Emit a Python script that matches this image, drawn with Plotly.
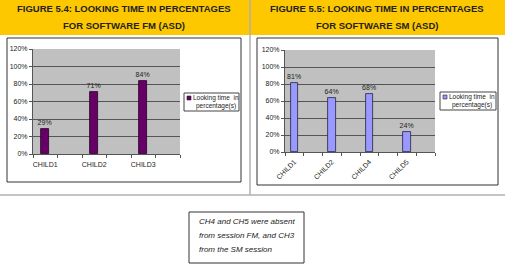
import plotly.graph_objects as go

W, H = 505, 276

fm_children = ["CHILD1", "CHILD2", "CHILD3"]
fm_values = [0.29, 0.71, 0.84]
sm_children = ["CHILD1", "CHILD2", "CHILD4", "CHILD5"]
sm_values = [0.81, 0.64, 0.68, 0.24]
series_lines = ["Looking time  in", "percentage(s)"]
y_ticks = [0, 0.2, 0.4, 0.6, 0.8, 1.0, 1.2]

title_left = ["FIGURE 5.4: LOOKING TIME IN PERCENTAGES", "FOR SOFTWARE FM (ASD)"]
title_right = ["FIGURE 5.5: LOOKING TIME IN PERCENTAGES", "FOR SOFTWARE SM (ASD)"]
note_lines = ["CH4 and CH5 were absent", "from session FM, and CH3", "from the SM session"]

FONT = "Liberation Sans, Arial, sans-serif"
FM_COLOR = "#660066"
SM_COLOR = "#9999FF"

def px(x):
    return x / W

def py(y):
    return 1 - y / H

fig = go.Figure()

fm_x = [2 * i for i in range(len(fm_children))]
sm_x = [2 * i for i in range(len(sm_children))]

fig.add_trace(go.Bar(
    x=fm_x, y=fm_values, width=0.33, name=" ".join(series_lines),
    marker=dict(color=FM_COLOR, line=dict(color="#220022", width=0.8)),
    text=[f"{round(v*100)}%" for v in fm_values], textposition="outside",
    constraintext="none",
    textfont=dict(size=7, color="#222", family=FONT), cliponaxis=False,
    xaxis="x", yaxis="y", showlegend=False,
))
fig.add_trace(go.Bar(
    x=sm_x, y=sm_values, width=0.39, name=" ".join(series_lines),
    marker=dict(color=SM_COLOR, line=dict(color="#222244", width=0.8)),
    text=[f"{round(v*100)}%" for v in sm_values], textposition="outside",
    constraintext="none",
    textfont=dict(size=7, color="#222", family=FONT), cliponaxis=False,
    xaxis="x2", yaxis="y2", showlegend=False,
))

axis_common = dict(showgrid=False, zeroline=False, showline=True, linecolor="#555", linewidth=1,
                   automargin=False, tickfont=dict(size=7, color="#222", family=FONT))
yaxis_common = dict(range=[0, 1.2], tickvals=y_ticks, tickformat=".0%", showgrid=True,
                    gridcolor="#555", gridwidth=1, zeroline=False, showline=True, automargin=False,
                    linecolor="#555", linewidth=1, ticks="outside", ticklen=3, tickcolor="#555",
                    tickfont=dict(size=7, color="#222", family=FONT))

fig.update_layout(
    width=W, height=H, margin=dict(l=0, r=0, t=0, b=0, pad=0, autoexpand=False),
    paper_bgcolor="white", plot_bgcolor="#C0C0C0",
    bargap=0, showlegend=False,
    xaxis=dict(domain=[px(33), px(180)], range=[-0.5, 2 * len(fm_children) - 0.5],
               tickvals=fm_x, ticktext=fm_children, ticks="", ticklabelstandoff=4,
               minor=dict(ticks="outside", tick0=-0.5, dtick=1, ticklen=3, tickcolor="#555"),
               anchor="y", **axis_common),
    yaxis=dict(domain=[py(154), py(49)], anchor="x", **yaxis_common),
    xaxis2=dict(domain=[px(285), px(435)], range=[-0.5, 2 * len(sm_children) - 0.5],
                tickvals=sm_x, ticktext=sm_children, ticks="", tickangle=-45, ticklabelstandoff=2,
                minor=dict(ticks="outside", tick0=-0.5, dtick=1, ticklen=3, tickcolor="#555"),
                anchor="y2", **axis_common),
    yaxis2=dict(domain=[py(152), py(50)], anchor="x2", **yaxis_common),
)

shapes = [
    dict(type="rect", xref="paper", yref="paper", x0=0, x1=1, y0=py(35), y1=1,
         fillcolor="#FDC800", line=dict(width=0), layer="below"),
    dict(type="line", xref="paper", yref="paper", x0=px(250), x1=px(250), y0=py(195), y1=1,
         line=dict(color="#B0B0B0", width=1.5)),
    dict(type="line", xref="paper", yref="paper", x0=0, x1=1, y0=py(195), y1=py(195),
         line=dict(color="#B0B0B0", width=1.5)),
    dict(type="rect", xref="paper", yref="paper", x0=px(7), x1=px(241), y0=py(182), y1=py(38),
         line=dict(color="#333", width=1)),
    dict(type="rect", xref="paper", yref="paper", x0=px(257), x1=px(498), y0=py(185), y1=py(38),
         line=dict(color="#333", width=1)),
    dict(type="rect", xref="paper", yref="paper", x0=px(189), x1=px(304), y0=py(263), y1=py(212),
         line=dict(color="#333", width=1)),
]

annotations = []

for (lx0, lx1, ly0, ly1, color) in ((184, 239, 93, 111, FM_COLOR), (440, 496, 92, 110, SM_COLOR)):
    shapes.append(dict(type="rect", xref="paper", yref="paper", x0=px(lx0), x1=px(lx1),
                       y0=py(ly1), y1=py(ly0), line=dict(color="#444", width=1), fillcolor="white"))
    shapes.append(dict(type="rect", xref="paper", yref="paper", x0=px(lx0 + 3), x1=px(lx0 + 7),
                       y0=py(ly0 + 7), y1=py(ly0 + 3), line=dict(color="#222", width=0.6),
                       fillcolor=color))
    cx = (lx0 + 8 + lx1) / 2
    annotations.append(dict(text=series_lines[0], x=px(cx), y=py(ly0 + 5), xref="paper", yref="paper",
                            showarrow=False, xanchor="center", yanchor="middle",
                            font=dict(size=6.5, color="#222", family=FONT)))
    annotations.append(dict(text=series_lines[1], x=px(cx), y=py(ly0 + 13), xref="paper", yref="paper",
                            showarrow=False, xanchor="center", yanchor="middle",
                            font=dict(size=6.5, color="#222", family=FONT)))

for lines, cx in ((title_left, 124), (title_right, 377)):
    for line, cy in zip(lines, (8, 26)):
        annotations.append(dict(text=f"<b>{line}</b>", x=px(cx), y=py(cy), xref="paper", yref="paper",
                                showarrow=False, xanchor="center", yanchor="middle",
                                font=dict(size=9.5, color="#222", family=FONT)))
for line, cy in zip(note_lines, (221, 235, 249)):
    annotations.append(dict(text=f"<i>{line}</i>", x=px(197), y=py(cy), xref="paper", yref="paper",
                            showarrow=False, xanchor="left", yanchor="middle",
                            font=dict(size=8, color="#222", family=FONT)))

fig.update_layout(shapes=shapes, annotations=annotations)
fig.write_html(
    "out.html",
    post_script=(
        "document.documentElement.style.margin='0';"
        "document.body.style.margin='0';document.body.style.padding='0';"
    ),
)
